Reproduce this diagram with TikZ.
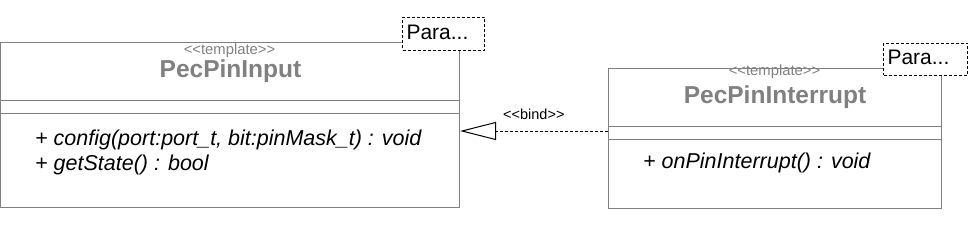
\documentclass[tikz,border=0pt]{standalone}
\usepackage{fontspec}
\setmainfont{Liberation Sans}
\usetikzlibrary{arrows.meta, positioning, calc}
\definecolor{umlgray}{RGB}{128,128,128}
\newcommand{\stereotxt}[1]{<\kern0pt<#1>\kern0pt>}

\begin{document}
\begin{tikzpicture}[x=1pt, y=-1pt,
  classbox/.style={draw=umlgray, line width=1pt, inner sep=0pt, anchor=north west},
  parabox/.style={draw=black, dash pattern=on 3pt off 2pt, fill=white, line width=1pt, anchor=north west,
    inner xsep=4pt, align=left, text height=15pt, text depth=4pt, font=\fontsize{21}{24}\selectfont},
  stereo/.style={text=umlgray, font=\fontsize{14.8}{17}\selectfont, anchor=base, inner sep=0pt},
  cname/.style={text=umlgray, font=\bfseries\fontsize{24.5}{28}\selectfont, anchor=base, inner sep=0pt},
  oper/.style={font=\itshape\fontsize{21.5}{25}\selectfont, anchor=base west, inner sep=0pt},
  bind/.style={dash pattern=on 3pt off 2pt, line width=1pt, -{Triangle[open, length=36pt, width=18pt]}}]
  \useasboundingbox (0,0) rectangle (968,227);
  \node[classbox, minimum width=459pt, minimum height=165pt] (input) at (0,42) {};
  \draw[umlgray, line width=1pt] ($(input.north west)+(0,59)$) -- ($(input.north east)+(0,59)$);
  \draw[umlgray, line width=1pt] ($(input.north west)+(0,72)$) -- ($(input.north east)+(0,72)$);
  \node[stereo] (inputst) at (229.5,55) {\stereotxt{template}};
  \node[cname] (inputnm) at (230.5,78) {PecPinInput};
  \node[oper] (config) at (35,145) {+ config(port:port\_t, bit:pinMask\_t) : void};
  \node[oper] (getstate) at (35,170) {+ getState() : bool};
  \node[parabox, text width=74pt, minimum height=33pt] (inputpar) at (402,17) {Para...};

  \node[classbox, minimum width=333pt, minimum height=140pt] (intr) at (608,68) {};
  \draw[umlgray, line width=1pt] ($(intr.north west)+(0,58)$) -- ($(intr.north east)+(0,58)$);
  \draw[umlgray, line width=1pt] ($(intr.north west)+(0,71)$) -- ($(intr.north east)+(0,71)$);
  \node[stereo] (intrst) at (774.5,76) {\stereotxt{template}};
  \node[cname] (intrnm) at (775,103) {PecPinInterrupt};
  \node[oper] (onpin) at (643,168) {+ onPinInterrupt() : void};
  \node[parabox, text width=76pt, minimum height=32pt] (intrpar) at (883,43) {Para...};

  \coordinate (bindy) at (0,131);
  \draw[bind] (intr.west |- bindy) -- (input.east |- bindy);
  \node[font=\fontsize{14.5}{16}\selectfont, anchor=base west, inner sep=0pt] (bindlbl) at (503,119) {\stereotxt{bind}};
\end{tikzpicture}
\end{document}
